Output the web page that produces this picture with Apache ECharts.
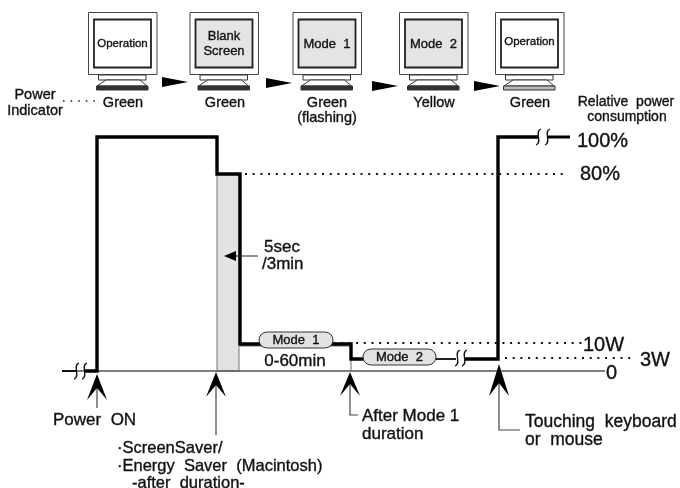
<!DOCTYPE html>
<html><head><meta charset="utf-8">
<style>html,body{margin:0;padding:0;background:#fff}#c{width:680px;height:488px}</style>
<script src="https://cdn.jsdelivr.net/npm/echarts@6/dist/echarts.min.js"></script>
</head><body><div id="c"></div>
<script>
// ---- values (time position, schematic power level) ----
const level100 = 234, level80 = 197, level10W = 27, level3W = 12, levelZero = 0;
const traceSegA = [[62,levelZero],[76,levelZero]];
const traceSegB = [[85,levelZero],[97,levelZero],[97,level100],[217,level100],[217,level80],[240,level80],[240,level10W],[351,level10W],[351,level3W],[400,level3W]];
const traceSegThin = [[400,level3W],[456,level3W]];
const traceSegC = [[465,level3W],[498,level3W],[498,level100],[538,level100]];
const traceSegD = [[547,level100],[570,level100]];
const baseline = [[62,levelZero],[605,levelZero]];
const dotted80 = [[245,level80],[566,level80]];
const dotted10W = [[333,level10W+1],[582,level10W+1]];
const dotted3W = [[505,level3W+1],[634,level3W+1]];
const transition = [[217,level80],[239,levelZero]];
const monitorCaptions = [["Operation"],["Blank","Screen"],["Mode  1"],["Mode  2"],["Operation"]];
const monitorDimmed = [false,true,true,true,false];
const indicatorStates = ["Green","Green","Green","Yellow","Green"];

// ---- layout ----
const H = 371;                 // y pixel of level 0
const P = (x,y)=>[x,H-y];      // pixel-like layout position -> axis value
const FONT = '"Liberation Sans", Arial, sans-serif';
const monitorLeft = [88,189.5,292.5,399,495];
const wedges = [[162,82],[266,83],[372,86],[474,86]];
const ups = [
  {x:97, tip:374, wing:400, notch:388, end:408},
  {x:216,tip:372, wing:397, notch:385, end:435},
  {x:350,tip:372, wing:396, notch:384, end:415, elbow:358},
  {x:499,tip:364, wing:396, notch:383, end:430, elbow:520}
];
const squiggles = [[76,371],[84,371],[538,137],[547,137],[457,358],[464,358]];
const pills = [{x:259,y:332,w:74,h:16,t:"Mode  1"},{x:363,y:349,w:73,h:16,t:"Mode  2"}];
const texts = [
  ["Power",35,95,14.5,"center"],["Indicator",35,111,14.5,"center"],
  [indicatorStates[0],123,103,14.5,"center"],[indicatorStates[1],225,103,14.5,"center"],
  [indicatorStates[2],327,103,14.5,"center"],["(flashing)",327,118,14.5,"center"],
  [indicatorStates[3],434,103,14.5,"center"],[indicatorStates[4],530,103,14.5,"center"],
  ["Relative  power",626,102,14,"center"],["consumption",627,117,14,"center"],
  ["100%",577,141,20,"left"],["80%",580,174,20,"left"],["10W",583,345,20,"left"],
  ["3W",640,360,20,"left"],["0",606,373,20,"left"],
  ["0-60min",295,361,17,"center"],["5sec",264,247,17,"left"],["/3min",262,264,17,"left"],
  ["Power  ON",53,420,17,"left"],["\u00b7ScreenSaver/",117,448,16.5,"left"],
  ["\u00b7Energy  Saver  (Macintosh)",117,466,16.5,"left"],["-after  duration-",132,483,16.5,"left"],
  ["After Mode 1",362,416,17,"left"],["duration",362,434,17,"left"],
  ["Touching  keyboard",525,422,17.5,"left"],["or  mouse",525,440,17.5,"left"]
];

const lineS=(data,width,color,extra)=>({type:'line',data,symbol:'none',silent:true,z:extra&&extra.z||5,animation:false,
  lineStyle:Object.assign({width,color,cap:'butt',join:'miter'},extra&&extra.ls||{})});
const dots=data=>lineS(data,2,'#111',{z:3,ls:{type:[2,5.7]}});
const custom=(data,renderItem,z)=>({type:'custom',data,renderItem,z,silent:true,animation:false,clip:false,coordinateSystem:'cartesian2d',encode:{x:0,y:1}});
const pt=(api,x,y)=>api.coord(P(x,y));
const txtStyle=(t,size,align)=>({text:t,font:size+'px '+FONT,fill:'#111',stroke:'#111',lineWidth:0.35,align,verticalAlign:'middle'});

function monitor(params,api){
  const i=params.dataIndex, L=monitorLeft[i], c=(x,y)=>pt(api,L+x,y);
  const k=[];
  const rect=(x0,y0,x1,y1,fill,stroke,lw)=>{const a=c(x0,y0),b=c(x1,y1);k.push({type:'rect',shape:{x:a[0],y:a[1],width:b[0]-a[0],height:b[1]-a[1]},style:{fill,stroke,lineWidth:lw}});};
  rect(0.5,12.5,69,74.5,'#fff','#444',1);
  rect(6,19.5,63,67.5,monitorDimmed[i]?'#e4e4e4':'#fff','#222',1.8);
  rect(10.5,75,58,80,'#fff','#333',1);
  k.push({type:'polygon',shape:{points:[c(18,80),c(52,80),c(59,86),c(9,86)]},style:{fill:'#fff',stroke:'#333',lineWidth:1}});
  rect(8.5,86,60,90,i===4?'#bbb':'#333','#333',1);
  const lines=monitorCaptions[i], small=lines[0]==="Operation";
  lines.forEach((t,j)=>{const p=c(34.5,(lines.length===1?(i===4?42:44):36+j*15));
    k.push({type:'text',x:p[0],y:p[1],style:txtStyle(t,small?11.5:13,'center')});});
  return {type:'group',children:k};
}

const opt={
  animation:false,backgroundColor:'#fff',
  grid:{left:0,right:0,top:0,bottom:0,containLabel:false},
  xAxis:{type:'value',min:0,max:680,show:false},
  yAxis:{type:'value',min:H-488,max:H,show:false},
  series:[
    custom([transition[0].concat(transition[1])],(p,api)=>{
      const a=api.coord([api.value(0),api.value(1)]),b=api.coord([api.value(2),api.value(3)]);
      return {type:'rect',shape:{x:a[0],y:a[1],width:b[0]-a[0],height:b[1]-a[1]},style:{fill:'#e2e2e2',stroke:'#777',lineWidth:1}};
    },1),
    lineS(baseline,1.6,'#555',{z:4}),
    lineS([[240,25],[351,25]],1,'#666',{z:2}),
    lineS([[351,25],[351,0]],1,'#666',{z:2}),
    dots(dotted80),dots(dotted10W),dots(dotted3W),
    lineS(traceSegA,2,'#111'),lineS(traceSegB,3.4,'#000'),lineS(traceSegThin,2,'#222'),lineS(traceSegC,3.4,'#000'),lineS(traceSegD,3,'#000'),
    custom(monitorCaptions.map((_,i)=>[i,0]),monitor,6),
    custom(wedges.map(w=>P(w[0],w[1])),(p,api)=>{
      const x=api.value(0),y=api.value(1);const c=(a,b)=>api.coord([x+a,y+b]);
      return {type:'polygon',shape:{points:[c(0,5),c(26,0),c(0,-5)]},style:{fill:'#000'}};
    },6),
    custom(ups.map((u,i)=>[u.x,i]),(p,api)=>{
      const u=ups[p.dataIndex],k=[];
      k.push({type:'polyline',shape:{points:u.elbow?[pt(api,u.x,u.notch),pt(api,u.x,u.end),pt(api,u.elbow,u.end)]:[pt(api,u.x,u.notch),pt(api,u.x,u.end)]},style:{stroke:'#444',lineWidth:1.2,fill:null}});
      k.push({type:'polygon',shape:{points:[pt(api,u.x,u.tip),pt(api,u.x+10,u.wing),pt(api,u.x,u.notch),pt(api,u.x-10,u.wing)]},style:{fill:'#000'}});
      return {type:'group',children:k};
    },7),
    custom([[258,0]],(p,api)=>({type:'group',children:[
      {type:'polyline',shape:{points:[pt(api,232,256),pt(api,258,256)]},style:{stroke:'#222',lineWidth:1,fill:null}},
      {type:'polygon',shape:{points:[pt(api,224,256),pt(api,236,251),pt(api,236,261)]},style:{fill:'#000'}}
    ]}),7),
    custom(squiggles.map(s=>P(s[0],s[1])),(p,api)=>{
      const x=api.value(0),y=H-api.value(1);
      const a=pt(api,x+3,y-8),b=pt(api,x-2,y+8),c1=pt(api,x-4,y-6),c2=pt(api,x+5,y+6);
      return {type:'bezierCurve',shape:{x1:a[0],y1:a[1],x2:b[0],y2:b[1],cpx1:c1[0],cpy1:c1[1],cpx2:c2[0],cpy2:c2[1]},style:{stroke:'#111',lineWidth:1.3,fill:null}};
    },7),
    custom(pills.map(m=>P(m.x,m.y)),(p,api)=>{
      const m=pills[p.dataIndex],a=pt(api,m.x,m.y),tp=pt(api,m.x+m.w/2,m.y+m.h/2);
      return {type:'group',children:[
        {type:'rect',shape:{x:a[0],y:a[1],width:m.w,height:m.h,r:m.h/2},style:{fill:'#e2e2e2',stroke:'#333',lineWidth:1}},
        {type:'text',x:tp[0],y:tp[1],style:txtStyle(m.t,13,'center')}
      ]};
    },8),
    custom(texts.map(t=>P(t[1],t[2])),(p,api)=>{
      const t=texts[p.dataIndex],q=pt(api,t[1],t[2]);
      return {type:'text',x:q[0],y:q[1],style:txtStyle(t[0],t[3],t[4])};
    },9),
    lineS([[63,H-101],[95,H-101]],1.6,'#222',{z:3,ls:{type:[1.6,6]}})
  ]
};
echarts.init(document.getElementById('c'),null,{renderer:'canvas'}).setOption(opt);
</script></body></html>
